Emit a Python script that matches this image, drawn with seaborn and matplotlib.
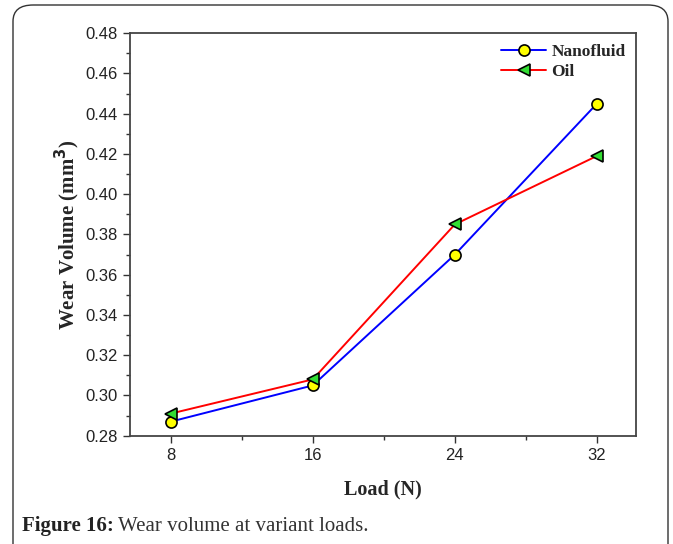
import matplotlib
matplotlib.use("Agg")
import matplotlib.pyplot as plt
import seaborn as sns
import pandas as pd
from matplotlib.patches import FancyBboxPatch
from matplotlib.ticker import AutoMinorLocator

loads = [8, 16, 24, 32]
nanofluid = [0.287, 0.305, 0.370, 0.445]
oil = [0.291, 0.308, 0.385, 0.419]
yticks = [0.28, 0.30, 0.32, 0.34, 0.36, 0.38, 0.40, 0.42, 0.44, 0.46, 0.48]

df = pd.DataFrame({
    "Load": loads * 2,
    "Wear": nanofluid + oil,
    "Series": ["Nanofluid"] * 4 + ["Oil"] * 4,
})

sns.set_theme(style="ticks")
plt.rcParams['font.family'] = ['Liberation Sans', 'DejaVu Sans']

fig = plt.figure(figsize=(6.73, 5.44), dpi=100)
ax = fig.add_axes([0.193, 0.199, 0.752, 0.740])

palette = {"Nanofluid": "#0000ff", "Oil": "#ff0000"}
markers = {"Nanofluid": "o", "Oil": "<"}
mfc = {"Nanofluid": "#ffff00", "Oil": "#33dd33"}
for name in ["Nanofluid", "Oil"]:
    sub = df[df["Series"] == name]
    sns.lineplot(data=sub, x="Load", y="Wear", ax=ax, color=palette[name],
                 marker=markers[name], markersize=8, markerfacecolor=mfc[name],
                 markeredgecolor="black", markeredgewidth=1.2, linewidth=1.4,
                 label=name)

ax.set_xlim(5.7, 34.2)
ax.set_ylim(0.28, 0.48)
ax.set_xticks(loads)
ax.set_yticks(yticks)
ax.set_yticklabels([f"{v:.2f}" for v in yticks])
ax.xaxis.set_minor_locator(AutoMinorLocator(2))
ax.yaxis.set_minor_locator(AutoMinorLocator(2))
ax.tick_params(axis="both", which="major", direction="out", length=5, width=1,
               labelsize=12, color="#333333", labelcolor="#222222")
ax.tick_params(axis="both", which="minor", direction="out", length=3, width=1,
               color="#333333")
for s in ax.spines.values():
    s.set_linewidth(1.3)
    s.set_color("#444444")

ax.set_xlabel("Load (N)", fontfamily="Liberation Serif", fontweight="bold",
              fontsize=14.5, labelpad=12)
ax.set_ylabel("Wear Volume (mm$^\\mathbf{3}$)", fontfamily="Liberation Serif",
              fontweight="bold", fontsize=15, labelpad=3)

leg = ax.legend(loc="upper right", frameon=False,
                prop={"family": "Liberation Serif", "weight": "bold", "size": 12.5},
                handlelength=2.6, borderaxespad=0.2, labelspacing=0.25,
                handletextpad=0.3)

# outer rounded frame
frame = FancyBboxPatch((13 / 673, -0.05), (668 - 13) / 673, (544 - 5) / 544 + 0.05,
                       boxstyle="round,pad=0,rounding_size=0.03",
                       transform=fig.transFigure, fill=False,
                       edgecolor="#333333", linewidth=1.0, clip_on=False)
fig.patches.append(frame)

t1 = fig.text(22 / 673, 1 - 531 / 544, "Figure 16:", fontfamily="Liberation Serif",
              fontweight="bold", fontsize=15, va="baseline", color="#222222")
fig.canvas.draw()
bb = t1.get_window_extent()
fig.text((bb.x1 + 4) / 673, 1 - 531 / 544, "Wear volume at variant loads.",
         fontfamily="Liberation Serif", fontsize=15, va="baseline", color="#333333")

fig.savefig("out.png", dpi=100)
